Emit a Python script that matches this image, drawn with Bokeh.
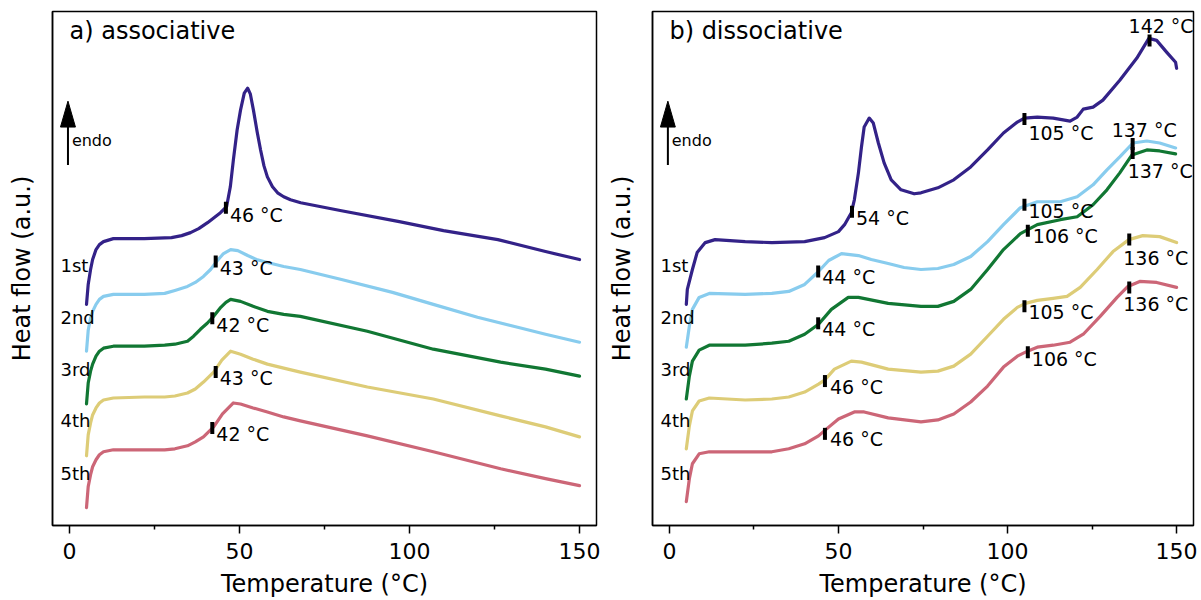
from bokeh.plotting import figure
from bokeh.models import Range1d, FixedTicker, ColumnDataSource
from bokeh.layouts import row
from bokeh.embed import file_html
from bokeh.resources import INLINE
from bokeh.core.properties import value

FONT = "DejaVu Sans"

# ---------------- data ----------------
cycles = ["1st", "2nd", "3rd", "4th", "5th"]
cycle_label_hf = [261, 209, 157, 105, 52]
colors = ["#332288", "#88CCEE", "#117733", "#DDCC77", "#CC6677"]

# a) associative  (T in °C, heat flow in a.u., curves offset)
a1_T = [5, 5.5, 6.2, 6.8, 7.8, 8.8, 10, 12.9, 22, 30, 33, 35.6, 38, 40.6, 42.5, 44.4, 46.2, 47.3, 48.2, 49.3,
        50.3, 51.4, 52.4, 53.2, 54.1, 55.2, 56.2, 57.2, 58.2, 59.7, 61.2, 63, 65, 68, 80, 97, 110, 126, 140, 150]
a1_hf = [222, 242, 257, 267, 277, 282, 285, 288, 288, 289, 291, 294, 298, 304, 309, 314, 320, 340, 367, 397,
         417, 434, 439, 433, 417, 395, 377, 361, 350, 340, 334, 330, 327, 324, 316, 305, 296, 287, 275, 267]
a2_T = [5, 5.5, 6.2, 6.8, 7.8, 8.8, 10, 12.9, 22, 28, 31, 34.7, 37, 39.4, 41.5, 43.5, 45.3, 47.4, 49.5, 52.4,
        55, 58.2, 63, 67.9, 80, 95, 107, 120, 131.8, 140, 150]
a2_hf = [175, 196, 208, 215, 222, 227, 230, 232, 232, 233, 236, 240, 244, 250, 257, 266, 273, 277, 276, 271,
         267, 264, 260, 257, 247, 234, 222, 209, 199, 192, 184]
a3_T = [5, 5.5, 6.2, 6.8, 7.8, 8.8, 10, 12.9, 22, 28, 31, 34.7, 36.5, 38.5, 40.5, 42.4, 44.5, 46, 47.4, 50.3,
        54, 58.2, 63, 67.9, 87.6, 107, 126.8, 140, 150]
a3_hf = [122, 143, 155, 162, 170, 175, 178, 180, 180, 181, 182, 185, 190, 197, 203, 210, 219, 224, 227, 225,
         220, 215, 212, 210, 195, 177, 164, 157, 150]
a4_T = [5, 5.5, 6.2, 6.8, 7.8, 8.8, 10, 12.9, 22, 28, 31, 34.7, 37, 39.4, 42.4, 44.8, 47.4, 50.3, 54, 58.2,
        63, 67.9, 87.6, 107, 126.8, 140, 150]
a4_hf = [70, 91, 103, 111, 118, 123, 126, 128, 129, 129, 130, 133, 137, 144, 154, 166, 175, 172, 167, 162,
         158, 154, 139, 127, 110, 99, 89]
a5_T = [5, 5.5, 6.2, 6.8, 7.8, 8.8, 10, 12.9, 22, 28, 31, 34.7, 37, 39.4, 42.4, 45, 48.2, 50.3, 54, 58.2,
        63, 67.9, 87.6, 107, 126.8, 140, 150]
a5_hf = [18, 39, 51, 59, 66, 71, 74, 76, 76, 76, 77, 80, 84, 89, 99, 112, 123, 122, 118, 114,
         109, 105, 90, 74, 57, 47, 40]

# b) dissociative
b1_T = [5, 5.3, 6.8, 8.2, 10.6, 13.5, 22.4, 30.3, 40, 45.9, 50, 51.8, 53.8, 54.7, 55.9, 56.8, 57.6, 59.1,
        60.3, 61.8, 63.5, 65.6, 68.5, 72.4, 74.4, 79.4, 84.1, 89.1, 94.1, 98.8, 102.9, 105, 108.8, 113.5,
        118.5, 120.6, 122.4, 125.3, 128.2, 133.2, 138.2, 141.8, 144.1, 147.1, 149.7, 150]
b1_hf = [222, 237, 257, 274, 284, 287, 285, 284, 285, 289, 295, 302, 314, 327, 354, 380, 400, 409,
         404, 384, 364, 347, 337, 333, 334, 339, 347, 360, 377, 394, 405, 409, 410, 409,
         406, 410, 418, 420, 427, 447, 469, 489, 487, 475, 465, 459]
b2_T = [5, 5.9, 6.8, 8.8, 11.8, 22.4, 30.3, 35.3, 40, 43.8, 47.1, 50.9, 55.9, 59.7, 64.7, 69.4, 74.4,
        79.4, 84.1, 89.1, 94.1, 98.8, 103.8, 108.8, 115.6, 120.6, 125.3, 129.4, 133.2, 137.1, 141.2, 145, 149.7]
b2_hf = [179, 200, 217, 229, 233, 232, 233, 235, 242, 254, 266, 273, 271, 267, 263, 259, 257,
         258, 262, 270, 285, 302, 319, 325, 325, 330, 342, 357, 370, 384, 386, 384, 379]
b3_T = [5, 5.9, 6.8, 8.8, 11.8, 22.4, 30.3, 35.3, 40, 44.1, 47.9, 52.9, 55.9, 64.7, 74.4, 79.4, 84.1,
        89.1, 94.1, 98.8, 103.8, 108.8, 115.6, 120.6, 125.3, 129.4, 133.2, 136.8, 141.2, 145, 149.7]
b3_hf = [127, 150, 165, 176, 181, 181, 183, 185, 192, 202, 217, 229, 229, 223, 220, 220, 225,
         237, 257, 277, 293, 302, 307, 310, 322, 337, 354, 372, 377, 376, 373]
b4_T = [5, 5.9, 6.8, 8.8, 11.8, 22.4, 30.3, 35.3, 40, 44.1, 45.9, 48.8, 53.8, 56.8, 64.7, 74.4, 79.4,
        84.1, 89.1, 94.1, 98.8, 102.9, 105.3, 108.8, 113.5, 117.6, 121.5, 126.5, 131.2, 135.9, 140, 145, 150]
b4_hf = [77, 100, 115, 125, 128, 126, 127, 129, 134, 142, 146, 157, 165, 164, 157, 154, 155,
         160, 172, 190, 207, 219, 223, 226, 228, 230, 239, 257, 275, 287, 291, 290, 284]
b5_T = [5, 5.9, 6.8, 8.8, 11.8, 22.4, 30.3, 35.3, 40, 44.1, 46.5, 50, 54.7, 57.6, 64.7, 74.4, 79.4,
        84.1, 89.1, 94.1, 98.8, 102.9, 105.9, 108.8, 113.5, 118.5, 122.4, 127.4, 132.4, 135.6, 139.1, 144.1, 150]
b5_hf = [24, 47, 62, 72, 74, 74, 74, 77, 82, 90, 97, 107, 114, 114, 108, 104, 106,
         112, 124, 140, 159, 170, 175, 179, 181, 184, 192, 210, 229, 240, 245, 244, 239]

# transition markers (T, heat flow at marker, label)
a_mark_T = [46, 43, 42, 43, 42]
a_mark_hf = [319, 265, 208, 154, 98]
a_mark_lbl = ["46 °C", "43 °C", "42 °C", "43 °C", "42 °C"]

b_mark_T = [54, 105, 142, 44, 105, 137, 44, 106, 137, 46, 105, 136, 46, 106, 136]
b_mark_hf = [315, 408, 487, 255, 322, 383, 203, 296, 374, 145, 220, 287, 92, 174, 239]
b_mark_lbl = ["54 °C", "105 °C", "142 °C", "44 °C", "105 °C", "137 °C", "44 °C", "106 °C", "137 °C",
              "46 °C", "105 °C", "136 °C", "46 °C", "106 °C", "136 °C"]

# label placement relative to the marker (screen px)
a_lbl_dx = [4, 4, 4, 4, 4]
a_lbl_dy = [-4, -5, -4, -5, -5]
b_lbl_dx = [4, 4, -21, 4, 4, -21, 4, 5, -5, 5, 4, -6, 5, 4, -6]
b_lbl_dy = [-5, 3, -25, -5, -5, -25, -5, -6, 7, -5, -5, 7, -6, -4, 6]

x_ticks = [0, 50, 100, 150]
x_minor = [25, 75, 125]


def make_panel(title, curves, mT, mhf, mlbl, dx, dy, width, border_left, border_right):
    p = figure(width=width, height=600, output_backend="svg", toolbar_location=None,
               x_range=Range1d(-5, 155), y_range=Range1d(0, 516),
               min_border_left=border_left, min_border_right=border_right,
               min_border_top=11, min_border_bottom=73)
    p.grid.visible = False
    p.outline_line_color = "black"
    p.outline_line_width = 1.5
    p.outline_line_alpha = 1.0
    p.background_fill_color = "white"
    p.border_fill_color = "white"

    xa = p.xaxis[0]
    xa.ticker = FixedTicker(ticks=x_ticks, minor_ticks=x_minor)
    xa.major_tick_out = 8
    xa.major_tick_in = 0
    xa.minor_tick_out = 4
    xa.minor_tick_in = 0
    xa.major_tick_line_width = 1.5
    xa.minor_tick_line_width = 1.5
    xa.axis_line_width = 1.5
    xa.major_label_text_font = FONT
    xa.major_label_text_font_size = "22px"
    xa.major_label_text_color = "black"
    xa.major_label_standoff = 9
    xa.axis_label = "Temperature (°C)"
    xa.axis_label_text_font = FONT
    xa.axis_label_text_font_size = "24px"
    xa.axis_label_text_font_style = "normal"
    xa.axis_label_text_color = "black"
    xa.axis_label_standoff = 8

    ya = p.yaxis[0]
    ya.ticker = FixedTicker(ticks=[])
    ya.major_tick_out = 0
    ya.major_tick_in = 0
    ya.minor_tick_out = 0
    ya.minor_tick_in = 0
    ya.axis_line_width = 1.5
    ya.axis_label = "Heat flow (a.u.)"
    ya.axis_label_text_font = FONT
    ya.axis_label_text_font_size = "24px"
    ya.axis_label_text_font_style = "normal"
    ya.axis_label_text_color = "black"
    ya.axis_label_standoff = 17

    for (T, hf), c in zip(curves, colors):
        p.line(T, hf, line_color=c, line_width=3.2, line_join="round", line_cap="round")

    # transition markers
    p.rect(mT, mhf, width=4, height=12, width_units="screen", height_units="screen",
           fill_color="black", line_color=None)
    src = ColumnDataSource(dict(x=mT, y=mhf, t=mlbl, dx=dx, dy=dy))
    p.text("x", "y", text="t", x_offset="dx", y_offset="dy", source=src,
           text_font=value(FONT), text_font_size="19px", text_color="black",
           text_align="left", text_baseline="top")

    # cycle labels
    p.text([-2.65] * 5, cycle_label_hf, text=cycles, text_font=value(FONT), text_font_size="18px",
           text_color="black", text_align="left", text_baseline="alphabetic")

    # panel title
    p.text([0], [496], text=[title], text_font=value(FONT), text_font_size="24px",
           text_color="black", text_align="left", text_baseline="alphabetic")

    # endo arrow
    p.segment([-0.45], [362], [-0.45], [402], line_color="black", line_width=2)
    p.patch([-2.65, -0.45, 1.75], [400, 426, 400], fill_color="black", line_color="black", line_width=1)
    p.text([0.7], [387], text=["endo"], text_font=value(FONT), text_font_size="16px",
           text_color="black", text_align="left", text_baseline="alphabetic")
    return p


p1 = make_panel("a) associative",
                [(a1_T, a1_hf), (a2_T, a2_hf), (a3_T, a3_hf), (a4_T, a4_hf), (a5_T, a5_hf)],
                a_mark_T, a_mark_hf, a_mark_lbl, a_lbl_dx, a_lbl_dy, 604, 52, 8)
p2 = make_panel("b) dissociative",
                [(b1_T, b1_hf), (b2_T, b2_hf), (b3_T, b3_hf), (b4_T, b4_hf), (b5_T, b5_hf)],
                b_mark_T, b_mark_hf, b_mark_lbl, b_lbl_dx, b_lbl_dy, 597, 46, 8)

layout = row(p1, p2)
open("out.html", "w").write(file_html(layout, INLINE))
